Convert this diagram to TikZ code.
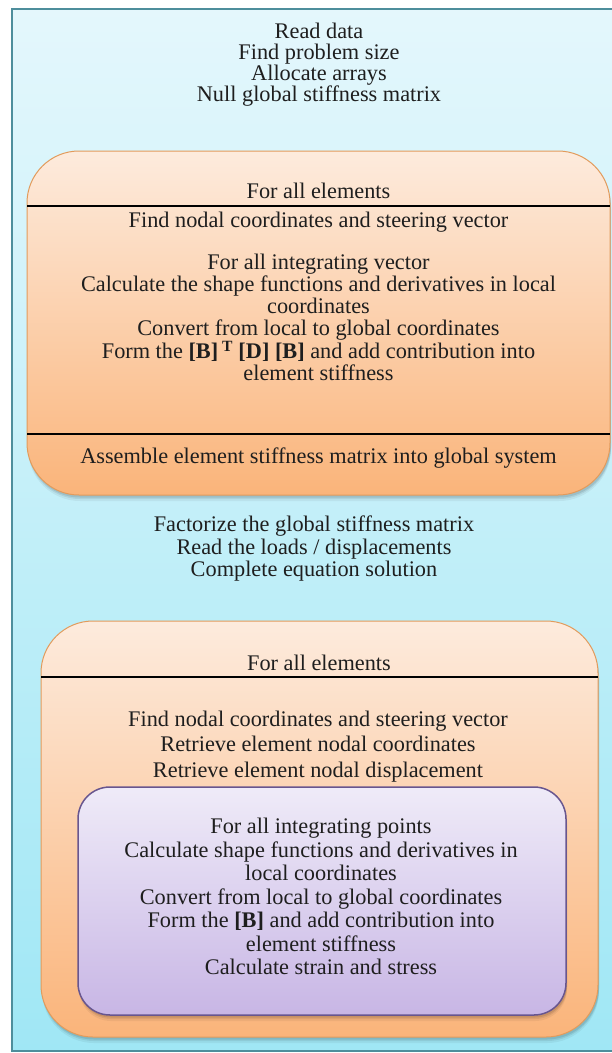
\documentclass[tikz,border=0pt]{standalone}
\usepackage{fontspec}
\setmainfont{Liberation Serif}

\definecolor{frameedge}{HTML}{4E8E9C}
\definecolor{frametop}{HTML}{E4F7FC}
\definecolor{framebot}{HTML}{A0E7F5}
\definecolor{peachtop}{HTML}{FDEBDD}
\definecolor{peachmid}{HTML}{FCDCC5}
\definecolor{peachbot}{HTML}{FAB47A}
\definecolor{peachedge}{HTML}{E29B5C}
\definecolor{lilactop}{HTML}{EFEBF8}
\definecolor{lilacbot}{HTML}{C8B6E5}
\definecolor{lilacedge}{HTML}{68568F}
\definecolor{ink}{HTML}{1E1E1E}

% soft shadow under a rounded box: x1 y1 x2 y2 radius
\newcommand\boxshadow[5]{%
  \foreach \s/\op in {6/0.05,4/0.07,2.5/0.09}{%
    \fill[black, opacity=\op, rounded corners=#5pt]
      (#1+1,#2+\s) rectangle (#3+1,#4+\s);}}

\tikzset{
  txt/.style={text=ink, align=center, inner sep=0pt,
    font=\fontsize{22.3}{#1}\selectfont,
    execute at begin node=\strut, execute at end node=\strut},
  txt/.default=21,
  rule/.style={black, line width=2pt},
  peach/.style={top color=peachtop, middle color=peachmid, bottom color=peachbot},
}

\begin{document}
\begin{tikzpicture}[x=1pt,y=-1pt]
\useasboundingbox (0,0) rectangle (612,1053);
\fill[white] (0,0) rectangle (612,1053);

% outer frame
\shade[top color=frametop, bottom color=framebot] (12,9) rectangle (614,1051);
\draw[frameedge, line width=2pt] (614,9) -- (12,9) -- (12,1051) -- (614,1051);

\node[txt=21] (prep) at (319,65)
  {Read data\\ Find problem size\\ Allocate arrays\\ Null global stiffness matrix};

% first element loop
\boxshadow{27}{151}{610}{495}{52}
\shade[peach, rounded corners=52pt] (27,151) rectangle (610,495);
\draw[peachedge, line width=1pt, rounded corners=52pt] (27,151) rectangle (610,495);
\draw[rule] (27,206) -- (610,206);
\draw[rule] (27,434) -- (610,434);

\node[txt] (loopA) at (318.5,193.5) {For all elements};
\node[txt=22] (stiff) at (318.5,299.5)
  {Find nodal coordinates and steering vector\\[20pt]
   For all integrating vector\\
   Calculate the shape functions and derivatives in local\\
   coordinates\\
   Convert from local to global coordinates\\
   Form the \textbf{[B]}\,\textsuperscript{\textbf{T}} \textbf{[D]} \textbf{[B]} and add contribution into\\
   element stiffness};
\node[txt] (assemble) at (318.5,458.5)
  {Assemble element stiffness matrix into global system};

\node[txt=22.5] (solve) at (314,550)
  {Factorize the global stiffness matrix\\ Read the loads / displacements\\ Complete equation solution};

% second element loop
\boxshadow{41}{621}{598}{1037}{52}
\shade[peach, rounded corners=52pt] (41,621) rectangle (598,1037);
\draw[peachedge, line width=1pt, rounded corners=52pt] (41,621) rectangle (598,1037);
\draw[rule] (41,677) -- (598,677);

\node[txt] (loopB) at (319,665.5) {For all elements};
\node[txt=25.5] (retrieve) at (318,748)
  {Find nodal coordinates and steering vector\\
   Retrieve element nodal coordinates\\
   Retrieve element nodal displacement};

% integration point loop
\boxshadow{78}{787}{566}{1015}{32}
\shade[top color=lilactop, bottom color=lilacbot, rounded corners=32pt]
  (78,787) rectangle (566,1015);
\draw[lilacedge, line width=1.5pt, rounded corners=32pt] (78,787) rectangle (566,1015);

\node[txt=23.5] (gauss) at (321,900)
  {For all integrating points\\
   Calculate shape functions and derivatives in\\
   local coordinates\\
   Convert from local to global coordinates\\
   Form the \textbf{[B]} and add contribution into\\
   element stiffness\\
   Calculate strain and stress};
\end{tikzpicture}
\end{document}
